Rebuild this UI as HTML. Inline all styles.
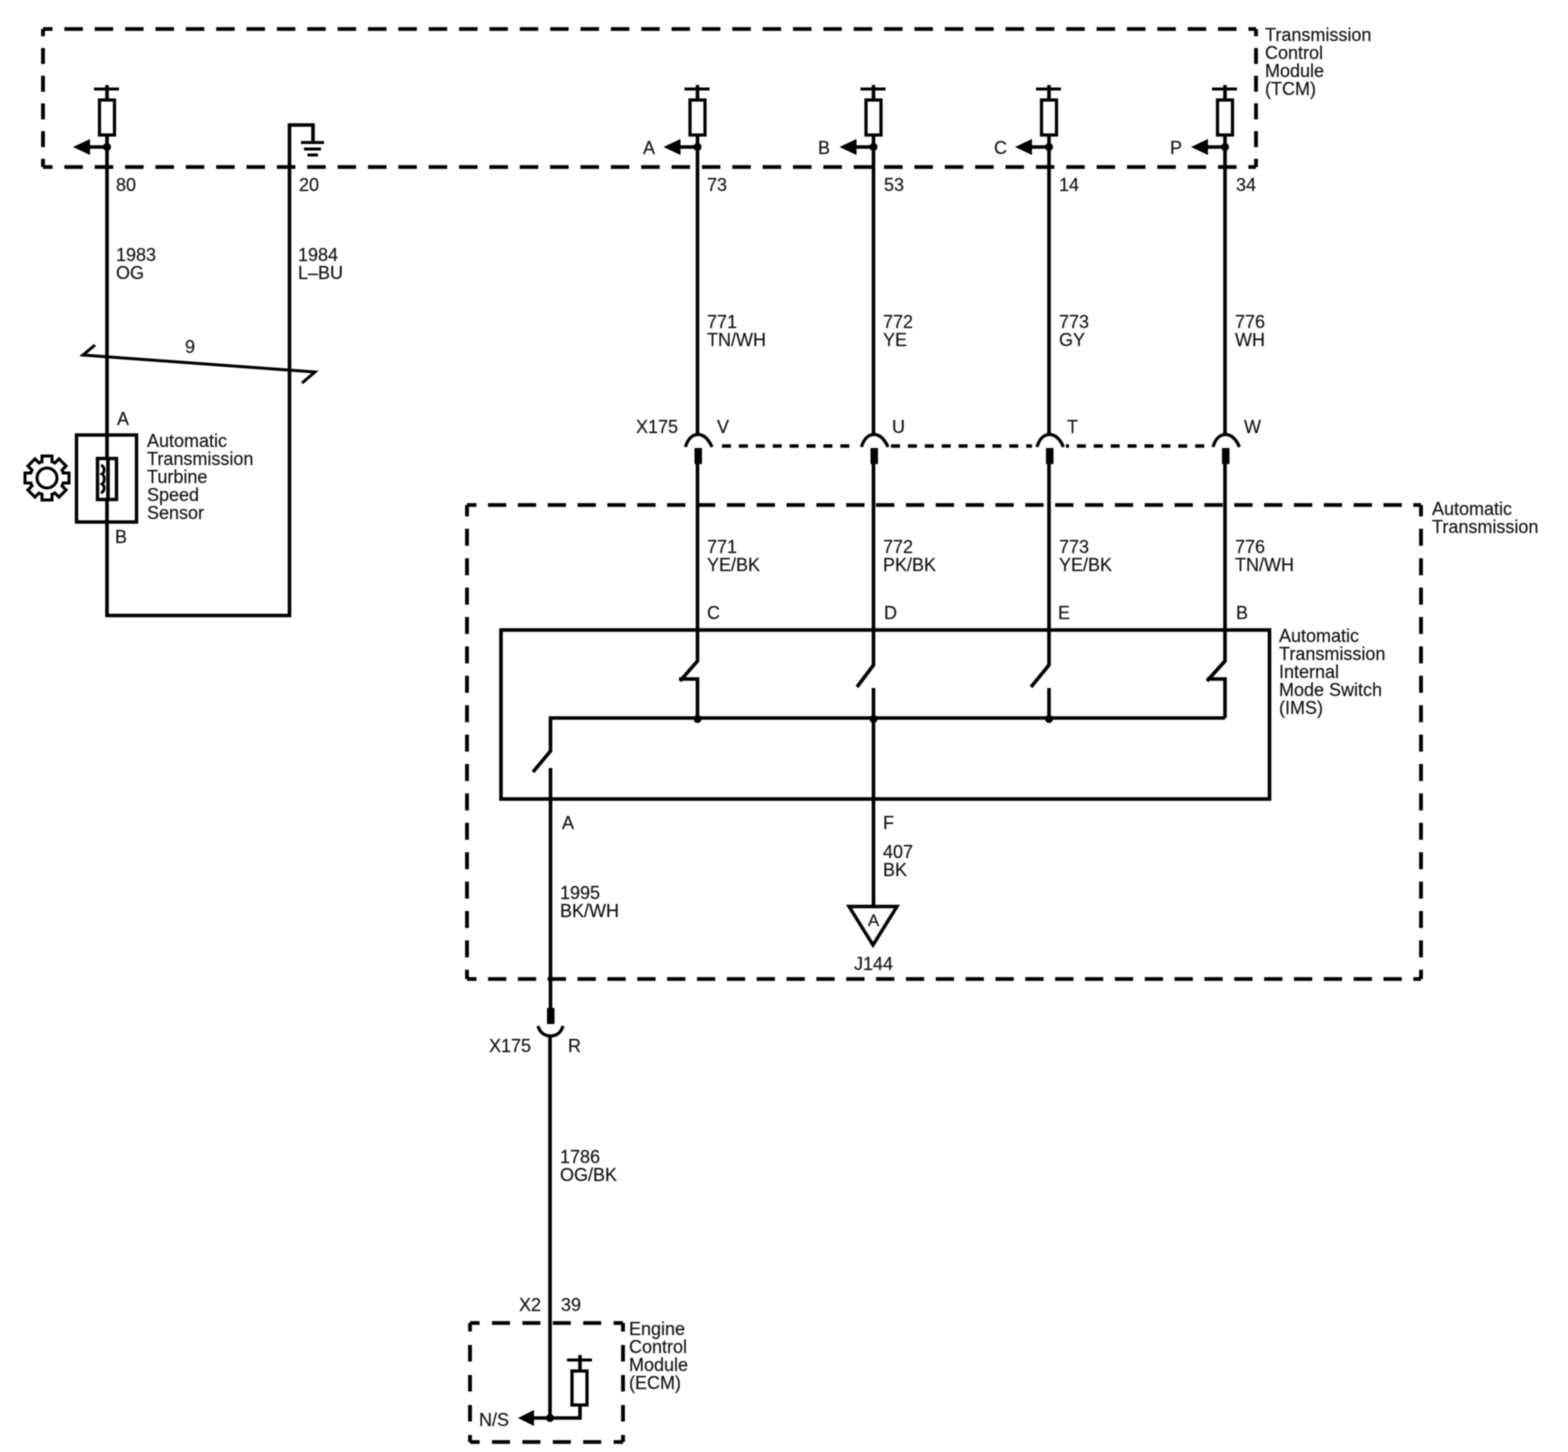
<!DOCTYPE html>
<html>
<head>
<meta charset="utf-8">
<style>
html,body{margin:0;padding:0;background:#fff;width:1568px;height:1452px;overflow:hidden}
svg{display:block;filter:blur(0.55px)}
text{font-family:"Liberation Sans",sans-serif;font-size:18px;fill:#111;stroke:#111;stroke-width:0.15}
.w{fill:none;stroke:#000;stroke-width:3.6}
.t{fill:none;stroke:#000;stroke-width:3}
.d{fill:none;stroke:#000;stroke-width:3.8}
</style>
</head>
<body>
<svg width="1568" height="1452" viewBox="0 0 1568 1452" xmlns="http://www.w3.org/2000/svg">
<defs>
  <g id="pull">
    <path class="t" d="M-13 -58H12"/>
    <path class="w" d="M0 -62V-47"/>
    <rect x="-7.500" y="-47" width="15" height="35" fill="#fff" stroke="#000" stroke-width="3.200"/>
    <path class="w" d="M0 -12V0H-20"/>
    <path d="M-34 0L-17 -8V8Z" fill="#000"/>
    <circle cx="0" cy="0" r="4" fill="#000"/>
  </g>
  <g id="conn">
    <path d="M-12.500 13C-10 4 -5 0.500 0 0.500C5 0.500 10 4 14 13" fill="none" stroke="#000" stroke-width="3.200"/>
    <rect x="-3.500" y="14" width="7.500" height="16" fill="#000"/>
  </g>
</defs>

<!-- dashed module boxes -->
<path class="d" d="M43 29H1256" stroke-dasharray="18.500 11.860" stroke-dashoffset="9"/>
<path class="d" d="M43 167H1256" stroke-dasharray="18.500 11.860" stroke-dashoffset="9"/>
<path class="d" d="M43 29V167" stroke-dasharray="16 11.700" stroke-dashoffset="8.700"/>
<path class="d" d="M1256 29V167" stroke-dasharray="16 11.700" stroke-dashoffset="8.700"/>

<path class="d" d="M467 505H1421" stroke-dasharray="18.300 11.550" stroke-dashoffset="8.850"/>
<path class="d" d="M467 979H1421" stroke-dasharray="18.300 11.550" stroke-dashoffset="8.850"/>
<path class="d" d="M467 505V979" stroke-dasharray="17 12.400" stroke-dashoffset="5.600"/>
<path class="d" d="M1421 505V979" stroke-dasharray="17 12.400" stroke-dashoffset="5.600"/>

<path class="d" d="M470 1323H623" stroke-dasharray="18 12.400" stroke-dashoffset="8.400"/>
<path class="d" d="M470 1442H623" stroke-dasharray="18 12.400" stroke-dashoffset="8.400"/>
<path class="d" d="M470 1323V1442" stroke-dasharray="16.500 13.500" stroke-dashoffset="8"/>
<path class="d" d="M623 1323V1442" stroke-dasharray="16.500 13.500" stroke-dashoffset="8"/>

<!-- TCM pullups -->
<use href="#pull" x="107" y="147"/>
<use href="#pull" x="697.500" y="147"/>
<use href="#pull" x="873.500" y="147"/>
<use href="#pull" x="1049" y="147"/>
<use href="#pull" x="1225" y="147"/>

<!-- ground -->
<path class="w" d="M107 147V615.500H289.500V125H313V142"/>
<path class="t" d="M301 142.500H324"/>
<path class="t" d="M304 149H321"/>
<path class="t" d="M307.500 155H318"/>

<!-- twist -->
<path class="t" d="M95 345L83 355L315 372L302 383"/>

<!-- sensor -->
<rect x="76.500" y="435" width="60" height="87" fill="none" stroke="#000" stroke-width="3.400"/>
<rect x="97.500" y="458.500" width="19" height="41" fill="#fff" stroke="#000" stroke-width="3.400"/>
<path class="w" d="M108 458V500"/>
<path d="M101 465C105 467 105 472 102 474C105 476 105 482 102 484C105 486 105 491 101 493" fill="none" stroke="#000" stroke-width="2.800"/>

<!-- gear -->
<g transform="translate(47 478)">
  <g fill="#000">
    <rect x="-6.500" y="-23.500" width="13" height="47"/>
    <rect x="-6.500" y="-23.500" width="13" height="47" transform="rotate(45)"/>
    <rect x="-6.500" y="-23.500" width="13" height="47" transform="rotate(90)"/>
    <rect x="-6.500" y="-23.500" width="13" height="47" transform="rotate(135)"/>
    <circle r="18.500"/>
  </g>
  <g fill="#fff">
    <rect x="-3.500" y="-20.500" width="7" height="41"/>
    <rect x="-3.500" y="-20.500" width="7" height="41" transform="rotate(45)"/>
    <rect x="-3.500" y="-20.500" width="7" height="41" transform="rotate(90)"/>
    <rect x="-3.500" y="-20.500" width="7" height="41" transform="rotate(135)"/>
    <circle r="15.500"/>
  </g>
  <circle r="10" fill="#fff" stroke="#000" stroke-width="3"/>
</g>

<!-- upper vertical wires -->
<path class="w" d="M697.500 147V440"/>
<path class="w" d="M873.500 147V440"/>
<path class="w" d="M1049 147V440"/>
<path class="w" d="M1225 147V440"/>

<!-- X175 connector row -->
<path d="M722 446H1212" fill="none" stroke="#000" stroke-width="3.400" stroke-dasharray="9 7.900"/>
<g>
  <rect x="680" y="434" width="34" height="16" fill="#fff"/>
  <rect x="856" y="434" width="34" height="16" fill="#fff"/>
  <rect x="1032" y="434" width="34" height="16" fill="#fff"/>
  <rect x="1208" y="434" width="34" height="16" fill="#fff"/>
</g>
<use href="#conn" x="698" y="434"/>
<use href="#conn" x="874" y="434"/>
<use href="#conn" x="1049.500" y="434"/>
<use href="#conn" x="1225.500" y="434"/>

<!-- IMS box -->
<rect x="501" y="630" width="768.500" height="169" fill="none" stroke="#000" stroke-width="3.600"/>

<!-- switches -->
<path class="w" d="M697.500 462V661L680 681"/>
<path class="w" d="M679 679H697.500V718"/>
<path class="w" d="M873.500 462V665L857 687"/>
<path class="w" d="M1049 462V665L1031 687"/>
<path class="w" d="M1225 462V661L1207 681"/>
<path class="w" d="M1207 679H1225V718"/>
<path class="w" d="M1049 688V718"/>
<path class="w" d="M873.500 688V906"/>
<path class="w" d="M1225 718H550.500V751L533 772"/>
<circle cx="697.500" cy="719" r="4" fill="#000"/>
<circle cx="873.500" cy="719" r="4" fill="#000"/>
<circle cx="1049" cy="719" r="4" fill="#000"/>

<!-- ground triangle -->
<path d="M849 906.500H897L873 945Z" fill="#fff" stroke="#000" stroke-width="3.400"/>

<!-- A wire -->
<path class="w" d="M550.500 768V1010"/>
<rect x="547" y="1008" width="7.500" height="16" fill="#000"/>
<path d="M538 1026C540 1033 545 1036 550.500 1036C556 1036 561 1033 563 1026" fill="none" stroke="#000" stroke-width="3.200"/>
<path class="w" d="M550 1036V1418"/>

<!-- ECM pull -->
<path class="t" d="M567 1360H592"/>
<path class="w" d="M580 1355V1371"/>
<rect x="572" y="1371" width="15" height="34" fill="#fff" stroke="#000" stroke-width="3.200"/>
<path class="w" d="M580 1405V1418H530"/>
<path d="M518 1418L534 1410V1426Z" fill="#000"/>
<circle cx="550" cy="1418" r="4" fill="#000"/>

<!-- text -->
<text x="1265" y="41">Transmission</text>
<text x="1265" y="59">Control</text>
<text x="1265" y="77">Module</text>
<text x="1265" y="95">(TCM)</text>

<text x="643" y="154">A</text>
<text x="818" y="154">B</text>
<text x="994" y="154">C</text>
<text x="1170" y="154">P</text>

<text x="116" y="191">80</text>
<text x="299" y="191">20</text>
<text x="707" y="191">73</text>
<text x="884" y="191">53</text>
<text x="1059" y="191">14</text>
<text x="1236" y="191">34</text>

<text x="116" y="261">1983</text>
<text x="116" y="279">OG</text>
<text x="298" y="261">1984</text>
<text x="298" y="279">L–BU</text>

<text x="185" y="353">9</text>

<text x="707" y="328">771</text>
<text x="707" y="346">TN/WH</text>
<text x="883" y="328">772</text>
<text x="883" y="346">YE</text>
<text x="1059" y="328">773</text>
<text x="1059" y="346">GY</text>
<text x="1235" y="328">776</text>
<text x="1235" y="346">WH</text>

<text x="117" y="425">A</text>
<text x="115" y="543">B</text>
<text x="147" y="447">Automatic</text>
<text x="147" y="465">Transmission</text>
<text x="147" y="483">Turbine</text>
<text x="147" y="501">Speed</text>
<text x="147" y="519">Sensor</text>

<text x="636" y="433">X175</text>
<text x="717" y="433">V</text>
<text x="892" y="433">U</text>
<text x="1067" y="433">T</text>
<text x="1244" y="433">W</text>

<text x="1432" y="515">Automatic</text>
<text x="1432" y="533">Transmission</text>

<text x="707" y="553">771</text>
<text x="707" y="571">YE/BK</text>
<text x="883" y="553">772</text>
<text x="883" y="571">PK/BK</text>
<text x="1059" y="553">773</text>
<text x="1059" y="571">YE/BK</text>
<text x="1235" y="553">776</text>
<text x="1235" y="571">TN/WH</text>

<text x="707" y="619">C</text>
<text x="884" y="619">D</text>
<text x="1058" y="619">E</text>
<text x="1236" y="619">B</text>

<text x="1279" y="642">Automatic</text>
<text x="1279" y="660">Transmission</text>
<text x="1279" y="678">Internal</text>
<text x="1279" y="696">Mode Switch</text>
<text x="1279" y="714">(IMS)</text>

<text x="562" y="829">A</text>
<text x="883" y="829">F</text>
<text x="883" y="858">407</text>
<text x="883" y="876">BK</text>
<text x="560" y="899">1995</text>
<text x="560" y="917">BK/WH</text>
<text x="873.500" y="926" text-anchor="middle" style="font-size:17px">A</text>
<text x="854" y="970">J144</text>

<text x="489" y="1052">X175</text>
<text x="568" y="1052">R</text>
<text x="560" y="1163">1786</text>
<text x="560" y="1181">OG/BK</text>
<text x="519" y="1311">X2</text>
<text x="561" y="1311">39</text>
<text x="629" y="1335">Engine</text>
<text x="629" y="1353">Control</text>
<text x="629" y="1371">Module</text>
<text x="629" y="1389">(ECM)</text>
<text x="479" y="1426">N/S</text>
</svg>
</body>
</html>
